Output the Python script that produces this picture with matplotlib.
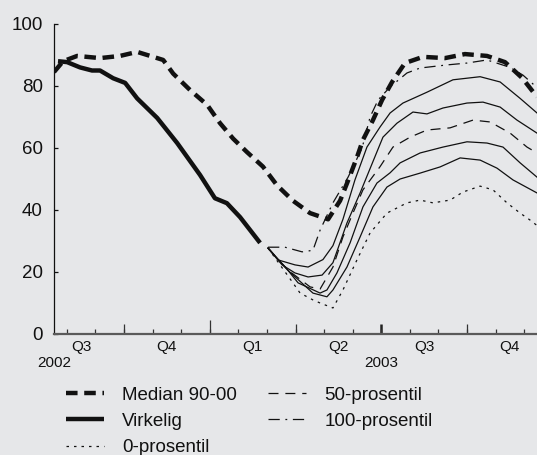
import matplotlib
matplotlib.use("Agg")
import matplotlib.pyplot as plt

# ── Data (x = months since 1 July 2002) ─────────────────────────────────────
median_x = [0.55, 0.87, 1.36, 2.16, 2.86, 3.46, 4.37, 4.72, 5.31, 5.91, 6.36,
            6.82, 7.30, 7.86, 8.35, 8.91, 9.51, 10.14, 10.56, 10.84, 11.15,
            11.36, 11.71, 12.03, 12.38, 12.83, 13.46, 14.23, 14.93, 15.70,
            16.33, 16.93, 17.45]
median_y = [84.5, 88.0, 89.7, 89.0, 89.7, 91.0, 88.4, 84.0, 78.7, 73.9, 68.0,
            63.0, 58.7, 54.0, 48.0, 43.0, 39.0, 37.0, 43.0, 49.5, 57.0,
            62.6, 69.0, 75.5, 81.3, 87.4, 89.4, 89.0, 90.3, 89.7,
            87.7, 82.6, 76.5]

actual_x = [0.69, 1.01, 1.46, 1.88, 2.16, 2.62, 3.04, 3.46, 4.16, 4.86, 5.66,
            6.18, 6.60, 7.06, 7.76]
actual_y = [88.0, 87.7, 86.0, 85.0, 85.0, 82.5, 81.0, 76.0, 69.7, 61.6, 51.3,
            43.8, 42.2, 37.7, 29.4]

p100_x = [8.04, 8.63, 9.23, 9.61, 9.86, 10.31, 10.84, 11.33, 11.61, 11.89,
          12.31, 12.90, 13.36, 14.30, 15.00, 15.70, 16.51, 16.96, 17.45]
p100_y = [28.0, 28.0, 26.5, 27.0, 33.5, 42.3, 50.6, 60.0, 70.0, 75.5,
          79.7, 84.2, 85.8, 86.8, 87.4, 88.4, 86.0, 83.5, 79.5]

p90_x = [8.04, 8.39, 8.98, 9.44, 9.96, 10.31, 10.66, 11.08, 11.50, 11.96,
         12.31, 12.76, 13.60, 14.51, 15.46, 16.16, 16.86, 17.45]
p90_y = [27.7, 23.9, 22.3, 21.6, 24.0, 28.5, 37.0, 49.7, 60.3, 66.8,
         71.3, 74.5, 78.0, 82.0, 83.0, 81.3, 76.0, 71.3]

p75_x = [8.04, 8.53, 8.98, 9.44, 9.93, 10.31, 10.80, 11.26, 12.06, 12.55,
         13.11, 13.60, 14.16, 15.00, 15.56, 16.16, 16.75, 17.45]
p75_y = [27.7, 22.3, 19.7, 18.4, 19.0, 23.0, 35.8, 45.5, 63.5, 68.0,
         71.6, 71.0, 72.9, 74.5, 74.8, 73.2, 69.0, 64.8]

p50_x = [8.04, 8.74, 9.51, 9.86, 10.31, 10.66, 11.01, 11.36, 11.96, 12.41,
         13.01, 13.60, 14.41, 15.21, 15.81, 16.51, 17.10, 17.45]
p50_y = [27.7, 20.6, 15.2, 14.5, 21.6, 31.3, 39.0, 46.5, 54.0, 60.3,
         63.5, 65.8, 66.5, 69.0, 68.4, 64.8, 60.3, 58.4]

p25_x = [8.04, 8.74, 9.09, 9.86, 10.10, 10.45, 10.91, 11.36, 11.85, 12.31,
         12.66, 13.36, 14.16, 15.00, 15.70, 16.26, 16.86, 17.45]
p25_y = [27.7, 20.5, 16.5, 13.2, 14.2, 19.7, 29.4, 41.0, 48.7, 52.0,
         55.2, 58.4, 60.3, 62.0, 61.6, 60.3, 55.2, 50.6]

p10_x = [8.04, 8.74, 9.61, 10.10, 10.31, 10.80, 11.26, 11.71, 12.20, 12.66,
         13.36, 14.06, 14.76, 15.46, 16.05, 16.61, 17.45]
p10_y = [27.7, 20.5, 13.2, 12.0, 14.2, 21.6, 31.3, 41.0, 47.4, 50.0,
         51.9, 53.9, 56.8, 56.1, 53.5, 49.7, 45.5]

p0_x = [8.04, 8.91, 9.16, 9.61, 9.86, 10.31, 10.66, 11.15, 11.61, 12.20,
        12.90, 13.36, 13.81, 14.41, 14.86, 15.46, 15.91, 16.40, 16.86, 17.20,
        17.45]
p0_y = [27.7, 16.5, 13.2, 11.0, 10.0, 8.4, 14.2, 23.9, 32.6, 39.0,
        42.3, 43.2, 42.3, 43.2, 45.8, 47.7, 46.5, 42.3, 39.0, 36.8,
        35.0]

month_ticks = list(range(1, 18))
quarter_bounds = [3, 9, 15]
quarter_centers = [1.5, 4.5, 7.5, 10.5, 13.5, 16.5]
quarter_labels = ["Q3", "Q4", "Q1", "Q2", "Q3", "Q4"]
year_pos = [0.55, 12]
year_labels = ["2002", "2003"]
y_ticks = [0, 20, 40, 60, 80, 100]

# ── Style ────────────────────────────────────────────────────────────────────
BG = "#E6E7E9"
INK = "#111111"
THICK, THIN = 3.2, 0.9
plt.rcParams["font.family"] = ["Liberation Sans", "DejaVu Sans"]

fig = plt.figure(figsize=(5.37, 4.55), dpi=100)
fig.patch.set_facecolor(BG)
ax = fig.add_axes([54 / 537, 121 / 455, 483 / 537, 310 / 455])
ax.set_facecolor(BG)

l_med, = ax.plot(median_x, median_y, color=INK, lw=THICK,
                 ls=(0, (2.6, 1.5)), label="Median 90-00")
l_act, = ax.plot(actual_x, actual_y, color=INK, lw=THICK,
                 solid_capstyle="butt", label="Virkelig")
l_p100, = ax.plot(p100_x, p100_y, color=INK, lw=THIN,
                  ls=(0, (9, 4.5, 1.5, 4.5)), label="100-prosentil")
ax.plot(p90_x, p90_y, color=INK, lw=THIN)
ax.plot(p75_x, p75_y, color=INK, lw=THIN)
l_p50, = ax.plot(p50_x, p50_y, color=INK, lw=THIN,
                 ls=(0, (8, 5.5)), label="50-prosentil")
ax.plot(p25_x, p25_y, color=INK, lw=THIN)
ax.plot(p10_x, p10_y, color=INK, lw=THIN)
l_p0, = ax.plot(p0_x, p0_y, color=INK, lw=THIN,
                ls=(0, (2, 4)), label="0-prosentil")

ax.set_xlim(0.55, 17.45)
ax.set_ylim(0, 100)
for s in ["top", "right"]:
    ax.spines[s].set_visible(False)
ax.spines["left"].set_color(INK)
ax.spines["left"].set_linewidth(0.9)
ax.spines["bottom"].set_color("#5A5A5A")
ax.spines["bottom"].set_linewidth(1.6)

ax.set_yticks(y_ticks)
ax.tick_params(axis="y", direction="in", length=3, width=0.9,
               labelsize=13.5, pad=8, colors=INK)

ax.set_xticks(quarter_centers, quarter_labels)
ax.set_xticks(month_ticks, minor=True)
ax.tick_params(axis="x", which="major", length=0, labelsize=11, pad=4,
               labelcolor=INK)
ax.tick_params(axis="x", which="minor", direction="in", length=3.6,
               width=0.9, color="#333333")

# quarter boundary ticks, plus the longer year tick and bold mid-year tick
sec = ax.secondary_xaxis("bottom")
sec.spines["bottom"].set_visible(False)
sec.set_xticks(quarter_bounds, [""] * len(quarter_bounds))
sec.set_xticks([12], [""], minor=True)
sec.tick_params(which="major", direction="in", length=7.2, width=0.9,
                color="#333333")
sec.tick_params(which="minor", direction="in", length=7.2, width=1.8,
                color="#222222")
sec2 = ax.secondary_xaxis("bottom")
sec2.spines["bottom"].set_visible(False)
sec2.set_xticks([6], [""])
sec2.tick_params(direction="in", length=10, width=0.9, color="#333333")

for xp, txt in zip(year_pos, year_labels):
    ax.text(xp, -0.094, txt, transform=ax.get_xaxis_transform(),
            ha="center", va="center", fontsize=11, color=INK)

fig.legend(handles=[l_med, l_act, l_p0, l_p50, l_p100], ncol=2,
           loc="upper left", bbox_to_anchor=(66 / 537, 0.150),
           frameon=False, fontsize=13.5, borderpad=0, borderaxespad=0,
           handlelength=2.0, handletextpad=1.0, labelspacing=0.48,
           columnspacing=1.65, labelcolor=INK)

fig.savefig("out.png", dpi=100, facecolor=BG)
